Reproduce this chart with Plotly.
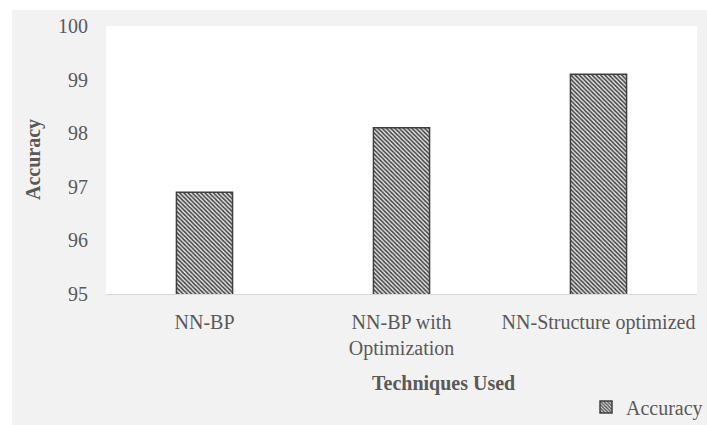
import plotly.graph_objects as go

# Accuracy per technique
techniques = ["NN-BP", "NN-BP with<br>Optimization", "NN-Structure optimized"]
accuracy = [96.9, 98.1, 99.1]
y_ticks = [95, 96, 97, 98, 99, 100]

W, H = 707, 425
L, R, T, B = 106, 10, 26, 131
plot_w = W - L - R
plot_h = H - T - B


def px_x(x):
    return (x - L) / plot_w


def px_y(y):
    return (H - B - y) / plot_h


FONT = "Liberation Serif, Times New Roman, serif"
TXT = "#595959"
FS = 20

fig = go.Figure()
fig.add_trace(go.Bar(
    x=techniques,
    y=accuracy,
    name="Accuracy",
    width=0.285,
    marker=dict(
        color="#e6e6e6",
        line=dict(color="#404040", width=1.5),
        pattern=dict(shape="\\", fgcolor="#404040", bgcolor="#e6e6e6",
                     size=3, solidity=0.5, fillmode="replace"),
    ),
))

# white strip along the top and left edges of the gray chart area
fig.add_shape(type="rect", xref="paper", yref="paper", layer="below",
              x0=px_x(0), x1=px_x(12), y0=px_y(H + 20), y1=px_y(0),
              fillcolor="white", line_width=0)
fig.add_shape(type="rect", xref="paper", yref="paper", layer="below",
              x0=px_x(0), x1=px_x(W + 20), y0=px_y(10), y1=px_y(0),
              fillcolor="white", line_width=0)

fig.add_annotation(text="<b>Techniques Used</b>", xref="paper", yref="paper",
                   x=px_x(443), y=px_y(383), xanchor="center", yanchor="middle",
                   showarrow=False, font=dict(family=FONT, size=FS, color=TXT))
fig.add_annotation(text="<b>Accuracy</b>", xref="paper", yref="paper",
                   x=px_x(33), y=px_y(160), xanchor="center", yanchor="middle",
                   textangle=-90, showarrow=False,
                   font=dict(family=FONT, size=FS, color=TXT))

fig.update_layout(
    width=W, height=H,
    autosize=False,
    margin=dict(l=L, r=R, t=T, b=B, autoexpand=False),
    paper_bgcolor="#f2f2f2",
    plot_bgcolor="white",
    font=dict(family=FONT, size=FS, color=TXT),
    showlegend=True,
    legend=dict(x=px_x(708), y=px_y(407), xanchor="right", yanchor="middle",
                bgcolor="rgba(0,0,0,0)", borderwidth=0,
                font=dict(family=FONT, size=FS, color=TXT),
                itemwidth=30),
    xaxis=dict(showgrid=False, showline=True, linecolor="#d9d9d9", linewidth=1,
               ticks="", ticklabelstandoff=10, tickfont=dict(size=FS, color=TXT)),
    yaxis=dict(range=[95, 100], tickvals=y_ticks, showgrid=False, zeroline=False,
               showline=False, ticks="", ticklabelstandoff=17,
               tickfont=dict(size=FS, color=TXT)),
)

fig.write_html("out.html")
